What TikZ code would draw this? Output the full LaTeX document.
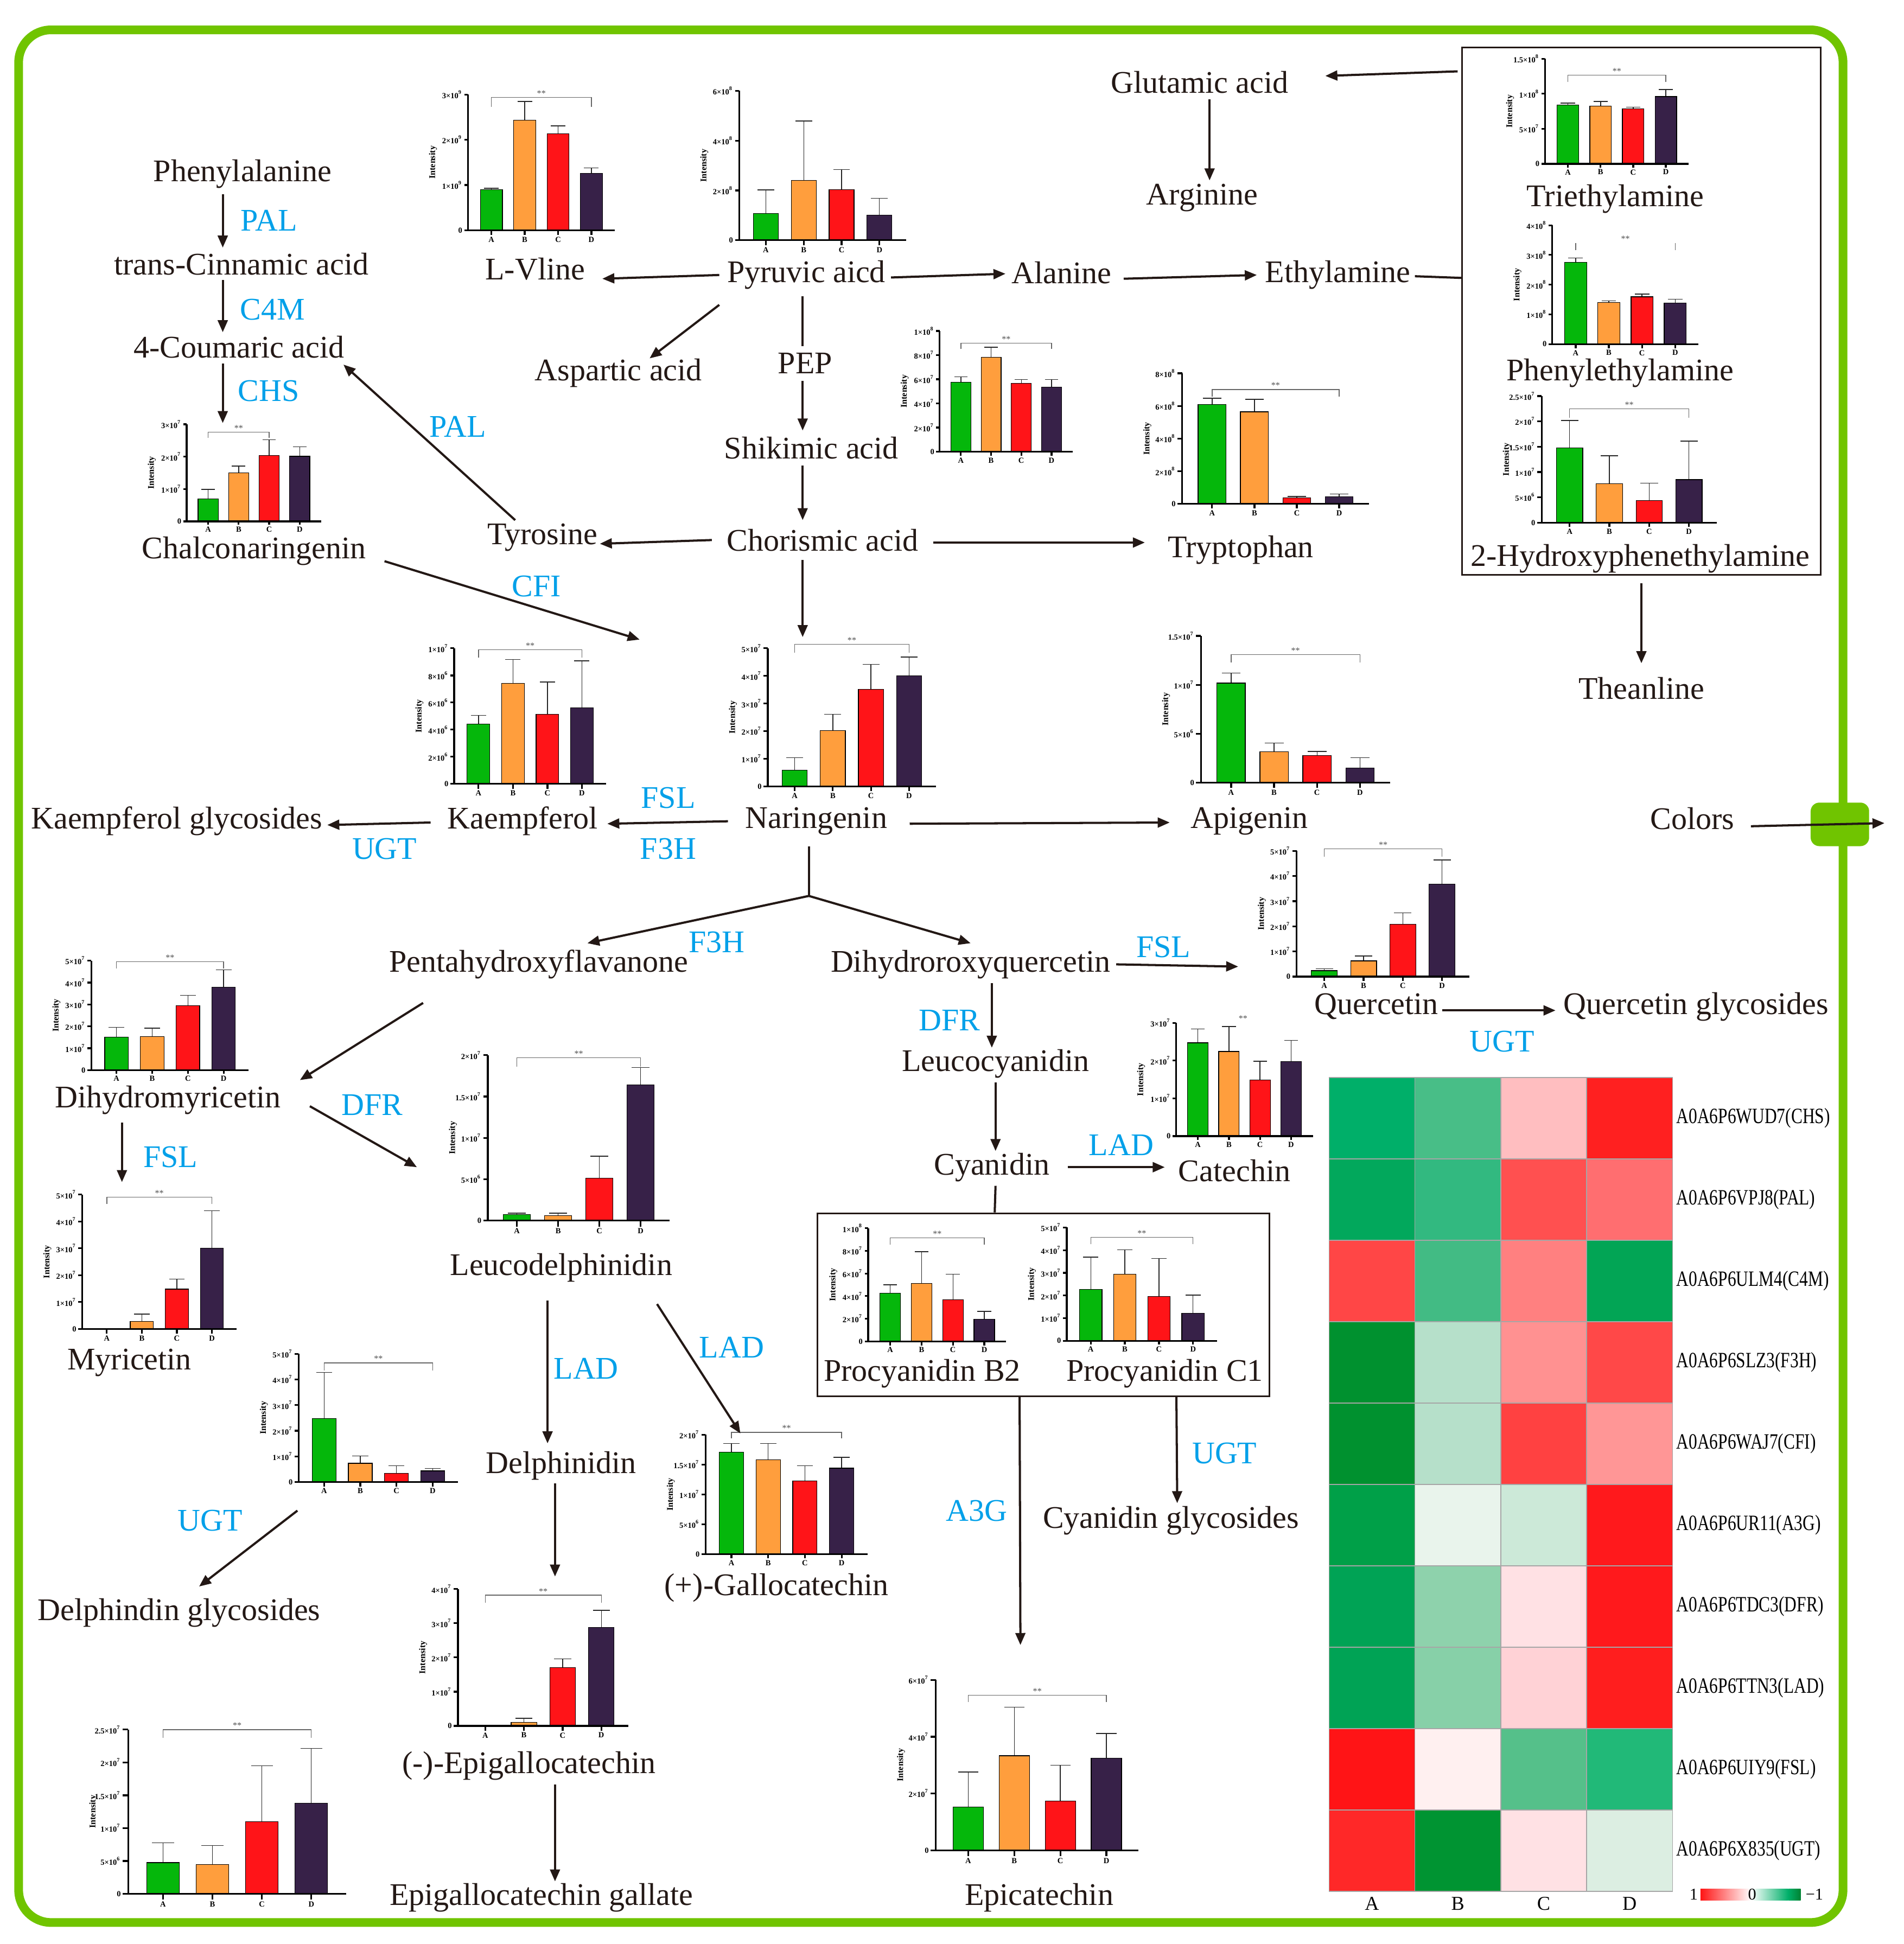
\documentclass[tikz,border=0pt]{standalone}
\usepackage{fontspec}
\setmainfont{Liberation Serif}
\usetikzlibrary{arrows.meta,shapes,positioning,calc}

\definecolor{textdark}{RGB}{35,24,21}
\definecolor{enzblue}{RGB}{0,160,233}
\definecolor{framegreen}{RGB}{112,196,0}
\definecolor{bar0}{RGB}{5,183,11}
\definecolor{bar1}{RGB}{255,158,61}
\definecolor{bar2}{RGB}{255,20,24}
\definecolor{bar3}{RGB}{55,33,72}
\definecolor{hmred}{RGB}{255,20,20}
\definecolor{hmgreen}{RGB}{0,175,105}
\definecolor{hmdark}{RGB}{0,130,50}

\tikzstyle{arrow} = [-{Triangle[length=5.5pt,width=4.5pt]}, line width=1pt, draw=textdark]
\tikzstyle{plainlink} = [line width=1pt, draw=textdark]
\tikzstyle{metab} = [font=\fontsize{14.4}{17}\selectfont, text=textdark, inner sep=1pt]
\tikzstyle{enzyme} = [metab, text=enzblue]
\tikzstyle{boxnode} = [draw=textdark, line width=0.8pt, inner sep=0pt]
\tikzstyle{frameline} = [draw=framegreen, line width=0.14cm, rounded corners=0.52cm]
\tikzstyle{colortab} = [fill=framegreen, rounded corners=0.14cm, minimum width=0.94cm, minimum height=0.7cm, inner sep=0pt]
\tikzstyle{plotaxis} = [line width=0.8pt, draw=black]
\tikzstyle{errbar} = [line width=0.35pt, draw=black!85]
\tikzstyle{ticktext} = [font=\fontsize{3.6}{4}\selectfont\bfseries, inner sep=0.5pt]
\tikzstyle{sigline} = [line width=0.35pt, draw=black!60]
\tikzstyle{startext} = [font=\fontsize{4}{4}\selectfont, text=black!70, inner sep=0.3pt]
\tikzstyle{hmcell} = [draw=black!35, line width=0.4pt]
\tikzstyle{genelabel} = [font=\fontsize{10}{11}\selectfont, xscale=0.78, anchor=west, inner sep=0pt]
\tikzstyle{hmtext} = [font=\fontsize{9}{10}\selectfont, inner sep=0pt]
\tikzstyle{legtext} = [font=\fontsize{7.5}{8}\selectfont, inner sep=0pt]

\newcommand{\tenpow}[2]{#1×10\textsuperscript{#2}}

% #1 name, #2 x, #3 y (axis origin), #4 width, #5 height, #6 intervals, #7 tick labels, #8 bars value/error
\newcommand{\intplot}[8]{%
  \def\plotx{#2}\def\ploty{#3}\def\plotw{#4}\def\ploth{#5}%
  \begin{scope}[shift={(#2,#3)}, xscale=#4, yscale=-#5]
    \foreach \bv/\be [count=\i from 0] in {#8} {
      \pgfmathsetmacro{\bx}{0.16+0.227*\i}
      \draw[errbar] (\bx,\bv) -- (\bx,\be) (\bx-0.05,\be) -- (\bx+0.05,\be);
      \filldraw[fill=bar\i, draw=black, line width=0.3pt] (\bx-0.075,0) rectangle (\bx+0.075,\bv);
      \draw[plotaxis] (\bx,0) -- (\bx,-0.035) node[below, ticktext] {\ifcase\i A\or B\or C\or D\fi};
    }
    \draw[plotaxis] (0,1) -- (0,0) -- (1,0);
    \foreach \lab [count=\j from 0] in {#7}
      \draw[plotaxis] (0,\j/#6) -- (-0.025,\j/#6) node[left, ticktext] {\lab};
    \node[ticktext, rotate=90, font=\fontsize{4}{5}\selectfont\bfseries] at ({-28/#4},0.5) {Intensity};
    \coordinate (#1) at (0,1);
  \end{scope}}

\newcommand{\sigbar}[4]{%
  \begin{scope}[shift={(\plotx,\ploty)}, xscale=\plotw, yscale=-\ploth]
    \draw[sigline] ({0.16+0.227*#3},#2) -- ({0.16+0.227*#3},#1) -- ({0.16+0.227*#4},#1) -- ({0.16+0.227*#4},#2);
    \node[startext, above] at ({0.16+0.1135*(#3+#4)},#1) {**};
  \end{scope}}

\newcommand{\sigtick}[4]{%
  \begin{scope}[shift={(\plotx,\ploty)}, xscale=\plotw, yscale=-\ploth]
    \draw[sigline] ({0.16+0.227*#3},#2) -- ({0.16+0.227*#3},#1) ({0.16+0.227*#4},#2) -- ({0.16+0.227*#4},#1);
    \node[startext, above] at ({0.16+0.1135*(#3+#4)},#1) {**};
  \end{scope}}

\newcommand{\sigstar}[2]{%
  \begin{scope}[shift={(\plotx,\ploty)}, xscale=\plotw, yscale=-\ploth]
    \node[startext] at (#1,#2) {**};
  \end{scope}}

\begin{document}
\begin{tikzpicture}[x=0.02cm, y=-0.02cm]
\useasboundingbox (0,0) rectangle (1530,1562.3);
\draw[frameline] (15,24) rectangle (1481,1545);
\node[colortab] (colortab) at (1478.5,662.5) {};

\node[boxnode, minimum width=5.76cm, minimum height=8.48cm] (aminebox) at (1319,250) {};
\node[boxnode, minimum width=7.26cm, minimum height=2.94cm] (probox) at (838.5,1048.5) {};

\intplot{lvlplot}{376}{185}{118}{109}{3}{0,\tenpow{1}{9},\tenpow{2}{9},\tenpow{3}{9}}{0.3/0.31, 0.81/0.95, 0.71/0.77, 0.42/0.46}
\sigbar{0.98}{0.91}{0}{3}
\intplot{pyrplot}{594}{193}{134}{120}{3}{0,\tenpow{2}{8},\tenpow{4}{8},\tenpow{6}{8}}{0.179/0.336, 0.399/0.798, 0.338/0.473, 0.168/0.281}
\intplot{trietplot}{1241.5}{131.7}{115.5}{84.5}{3}{0,\tenpow{5}{7},\tenpow{1}{8},\tenpow{1.5}{8}}{0.56/0.578, 0.548/0.594, 0.525/0.54, 0.64/0.708}
\sigbar{0.843}{0.78}{0}{3}
\intplot{phenplot}{1247.4}{276.5}{117.4}{95.5}{4}{0,\tenpow{1}{8},\tenpow{2}{8},\tenpow{3}{8},\tenpow{4}{8}}{0.688/0.723, 0.351/0.364, 0.398/0.42, 0.346/0.376}
\sigtick{0.85}{0.79}{0}{3}
\intplot{hydrplot}{1238.8}{420}{140.8}{101.7}{5}{0,\tenpow{5}{6},\tenpow{1}{7},\tenpow{1.5}{7},\tenpow{2}{7},\tenpow{2.5}{7}}{0.591/0.807, 0.307/0.529, 0.176/0.311, 0.34/0.644}
\sigbar{0.9}{0.83}{0}{3}
\intplot{shikplot}{755}{363}{107}{97}{5}{0,\tenpow{2}{7},\tenpow{4}{7},\tenpow{6}{7},\tenpow{8}{7},\tenpow{1}{8}}{0.577/0.62, 0.784/0.866, 0.567/0.598, 0.536/0.598}
\sigbar{0.9}{0.85}{0}{3}
\intplot{trpplot}{950}{405}{150}{105}{4}{0,\tenpow{2}{8},\tenpow{4}{8},\tenpow{6}{8},\tenpow{8}{8}}{0.762/0.81, 0.705/0.8, 0.048/0.057, 0.057/0.076}
\sigbar{0.876}{0.82}{0}{3}
\intplot{chalplot}{150}{419}{108}{78}{3}{0,\tenpow{1}{7},\tenpow{2}{7},\tenpow{3}{7}}{0.23/0.33, 0.5/0.57, 0.68/0.84, 0.67/0.77}
\sigbar{0.92}{0.86}{0}{2}
\intplot{kaeplot}{365}{630}{122}{109}{5}{0,\tenpow{2}{6},\tenpow{4}{6},\tenpow{6}{6},\tenpow{8}{6},\tenpow{1}{7}}{0.44/0.505, 0.743/0.917, 0.514/0.752, 0.56/0.908}
\sigbar{0.99}{0.93}{0}{3}
\intplot{narplot}{617}{632}{135}{111}{5}{0,\tenpow{1}{7},\tenpow{2}{7},\tenpow{3}{7},\tenpow{4}{7},\tenpow{5}{7}}{0.117/0.207, 0.405/0.522, 0.703/0.883, 0.802/0.937}
\sigbar{1.03}{0.97}{0}{3}
\intplot{apiplot}{965}{629}{152}{118}{3}{0,\tenpow{5}{6},\tenpow{1}{7},\tenpow{1.5}{7}}{0.678/0.746, 0.212/0.271, 0.186/0.212, 0.1/0.17}
\sigbar{0.873}{0.82}{0}{3}
\intplot{queplot}{1042}{784.8}{138.9}{101}{5}{0,\tenpow{1}{7},\tenpow{2}{7},\tenpow{3}{7},\tenpow{4}{7},\tenpow{5}{7}}{0.047/0.062, 0.125/0.164, 0.417/0.508, 0.737/0.928}
\sigbar{1.016}{0.952}{0}{3}
\intplot{catplot}{945}{913}{110}{91}{3}{0,\tenpow{1}{7},\tenpow{2}{7},\tenpow{3}{7}}{0.824/0.945, 0.747/0.967, 0.495/0.66, 0.66/0.846}
\sigstar{0.49}{1.04}
\intplot{dhmplot}{73.4}{860}{126.4}{88}{5}{0,\tenpow{1}{7},\tenpow{2}{7},\tenpow{3}{7},\tenpow{4}{7},\tenpow{5}{7}}{0.30/0.391, 0.305/0.383, 0.588/0.682, 0.756/0.917}
\sigbar{0.99}{0.93}{0}{3}
\intplot{leudelplot}{392}{981}{146}{133}{4}{0,\tenpow{5}{6},\tenpow{1}{7},\tenpow{1.5}{7},\tenpow{2}{7}}{0.038/0.045, 0.03/0.045, 0.256/0.39, 0.82/0.925}
\sigbar{0.985}{0.93}{0}{3}
\intplot{myrplot}{66}{1068}{124}{108}{5}{0,\tenpow{1}{7},\tenpow{2}{7},\tenpow{3}{7},\tenpow{4}{7},\tenpow{5}{7}}{0.003/0.003, 0.056/0.11, 0.296/0.37, 0.6/0.88}
\sigbar{0.98}{0.93}{0}{3}
\intplot{proBplot}{697.6}{1078}{111}{91}{5}{0,\tenpow{2}{7},\tenpow{4}{7},\tenpow{6}{7},\tenpow{8}{7},\tenpow{1}{8}}{0.425/0.5, 0.511/0.793, 0.369/0.593, 0.196/0.266}
\sigbar{0.913}{0.853}{0}{3}
\intplot{proCplot}{857.2}{1077.5}{120.7}{91}{5}{0,\tenpow{1}{7},\tenpow{2}{7},\tenpow{3}{7},\tenpow{4}{7},\tenpow{5}{7}}{0.452/0.739, 0.588/0.804, 0.393/0.726, 0.243/0.404}
\sigbar{0.915}{0.852}{0}{3}
\intplot{delplot}{240}{1191}{128}{103}{5}{0,\tenpow{1}{7},\tenpow{2}{7},\tenpow{3}{7},\tenpow{4}{7},\tenpow{5}{7}}{0.495/0.854, 0.146/0.204, 0.068/0.126, 0.087/0.107}
\sigbar{0.93}{0.87}{0}{3}
\intplot{galplot}{567}{1249}{130}{96}{4}{0,\tenpow{5}{6},\tenpow{1}{7},\tenpow{1.5}{7},\tenpow{2}{7}}{0.854/0.927, 0.79/0.927, 0.615/0.74, 0.72/0.81}
\sigbar{1.02}{0.97}{0}{3}
\intplot{egcplot}{368}{1387}{137}{110}{4}{0,\tenpow{1}{7},\tenpow{2}{7},\tenpow{3}{7},\tenpow{4}{7}}{0.003/0.003, 0.027/0.055, 0.427/0.49, 0.718/0.845}
\sigbar{0.955}{0.9}{0}{3}
\intplot{delglyplot}{103}{1522}{175}{132}{5}{0,\tenpow{5}{6},\tenpow{1}{7},\tenpow{1.5}{7},\tenpow{2}{7},\tenpow{2.5}{7}}{0.19/0.31, 0.18/0.295, 0.44/0.78, 0.553/0.886}
\sigbar{1.0}{0.95}{0}{3}
\intplot{epiplot}{752}{1487}{163}{137}{3}{0,\tenpow{2}{7},\tenpow{4}{7},\tenpow{6}{7}}{0.255/0.46, 0.555/0.84, 0.29/0.5, 0.54/0.686}
\sigbar{0.91}{0.87}{0}{3}

\node[metab] (phe) at (195,140) {Phenylalanine};
\node[metab] (cin) at (194,212) {trans-Cinnamic acid};
\node[metab] (coum) at (192,279) {4-Coumaric acid};
\node[metab] (chal) at (204,443) {Chalconaringenin};
\node[metab] (lvl) at (430,216) {L-Vline};
\node[metab] (pyr) at (648,221) {Pyruvic aicd};
\node[metab] (ala) at (853,219) {Alanine};
\node[metab] (ethyl) at (1075,221) {Ethylamine};
\node[metab] (glu) at (964,66) {Glutamic acid};
\node[metab] (arg) at (966,159) {Arginine};
\node[metab] (asp) at (497,300) {Aspartic acid};
\node[metab] (pep) at (647,292) {PEP};
\node[metab] (shik) at (652,360) {Shikimic acid};
\node[metab] (chor) at (661,434) {Chorismic acid};
\node[metab] (tyr) at (436,432) {Tyrosine};
\node[metab] (trp) at (997,442) {Tryptophan};
\node[metab] (trieth) at (1298,160) {Triethylamine};
\node[metab] (phenyl) at (1302,300) {Phenylethylamine};
\node[metab] (hydroxy) at (1318,449) {2-Hydroxyphenethylamine};
\node[metab] (thea) at (1319,553) {Theanline};
\node[metab] (kgly) at (142,660) {Kaempferol glycosides};
\node[metab] (kae) at (420,660) {Kaempferol};
\node[metab] (nar) at (656,660) {Naringenin};
\node[metab] (api) at (1004,660) {Apigenin};
\node[metab] (colors) at (1360,658) {Colors};
\node[metab] (penta) at (433,775) {Pentahydroxyflavanone};
\node[metab] (dhq) at (780,775) {Dihydroroxyquercetin};
\node[metab] (que) at (1106,809) {Quercetin};
\node[metab] (qgly) at (1363,809) {Quercetin glycosides};
\node[metab] (leucy) at (800,855) {Leucocyanidin};
\node[metab] (dhm) at (135,884) {Dihydromyricetin};
\node[metab] (cya) at (797,938) {Cyanidin};
\node[metab] (cat) at (992,941) {Catechin};
\node[metab] (leudel) at (451,1019) {Leucodelphinidin};
\node[metab] (myr) at (104,1095) {Myricetin};
\node[metab] (proB) at (741,1104) {Procyanidin B2};
\node[metab] (proC) at (936,1104) {Procyanidin C1};
\node[metab] (del) at (451,1178) {Delphinidin};
\node[metab] (cyagly) at (941,1222) {Cyanidin glycosides};
\node[metab] (delgly) at (144,1296) {Delphindin glycosides};
\node[metab] (galcat) at (624,1276) {(+)-Gallocatechin};
\node[metab] (egc) at (425,1419) {(-)-Epigallocatechin};
\node[metab] (egcg) at (435,1525) {Epigallocatechin gallate};
\node[metab] (epi) at (835,1525) {Epicatechin};

\node[enzyme] (palA) at (216,177) {PAL};
\node[enzyme] (c4m) at (219,249) {C4M};
\node[enzyme] (chs) at (216,314) {CHS};
\node[enzyme] (palB) at (368,343) {PAL};
\node[enzyme] (cfi) at (431,471) {CFI};
\node[enzyme] (fslA) at (537,641) {FSL};
\node[enzyme] (f3hA) at (537,682) {F3H};
\node[enzyme] (ugtA) at (309,682) {UGT};
\node[enzyme] (f3hB) at (576,757) {F3H};
\node[enzyme] (fslB) at (935,761) {FSL};
\node[enzyme] (dfrA) at (763,820) {DFR};
\node[enzyme] (ugtB) at (1207,837) {UGT};
\node[enzyme] (dfrB) at (299,888) {DFR};
\node[enzyme] (fslC) at (137,930) {FSL};
\node[enzyme] (ladA) at (901,920) {LAD};
\node[enzyme] (ladB) at (471,1100) {LAD};
\node[enzyme] (ladC) at (588,1083) {LAD};
\node[enzyme] (ugtC) at (984,1168) {UGT};
\node[enzyme] (a3g) at (785,1214) {A3G};
\node[enzyme] (ugtD) at (169,1222) {UGT};

\draw[arrow] ($(phe)+(-16,16)$) -- ($(cin)+(-15,-13)$);
\draw[arrow] ($(cin)+(-15,13)$) -- ($(coum)+(-13,-12)$);
\draw[arrow] ($(coum)+(-13,13)$) -- ($(chalplot)+(29,-1)$);
\draw[arrow] ($(tyr)+(-22,-14)$) -- ($(coum)+(84,14)$);
\draw[arrow] ($(chal)+(105,8)$) -- ($(narplot)+(-103,-7)$);
\draw[arrow] ($(pyr)+(-70,0)$) -- ($(lvl)+(54,8)$);
\draw[arrow] ($(pyr)+(68,2)$) -- ($(ala)+(-45,1)$);
\draw[arrow] ($(ala)+(50,5)$) -- ($(ethyl)+(-65,0)$);
\draw[plainlink] ($(ethyl)+(62,1)$) -- ($(aminebox.north west)+(0,186)$);
\draw[arrow] ($(aminebox.north west)+(-3,20)$) -- ($(glu)+(101,-5)$);
\draw[arrow] ($(glu)+(8,14)$) -- ($(arg)+(6,-14)$);
\draw[arrow] ($(pyr)+(-70,24)$) -- ($(asp)+(25,-12)$);
\draw[plainlink] ($(pyr)+(-3,17)$) -- ($(pep)+(-2,-14)$);
\draw[arrow] ($(pep)+(-2,14)$) -- ($(shik)+(-7,-14)$);
\draw[arrow] ($(shik)+(-7,14)$) -- ($(chor)+(-16,-16)$);
\draw[arrow] ($(chor)+(-89,0)$) -- ($(tyr)+(46,5)$);
\draw[arrow] ($(chor)+(89,2)$) -- ($(trp)+(-77,-6)$);
\draw[arrow] ($(chor)+(-16,16)$) -- ($(narplot)+(28,-9)$);
\draw[arrow] ($(aminebox.south)+(0,6)$) -- ($(thea)+(0,-20)$);
\draw[arrow] ($(nar)+(-71,0)$) -- ($(kae)+(68,2)$);
\draw[arrow] ($(kae)+(-74,1)$) -- ($(kgly)+(121,3)$);
\draw[arrow] ($(nar)+(75,2)$) -- ($(api)+(-64,1)$);
\draw[arrow] ($(colors)+(47,6)$) -- ($(colortab.east)+(12,-1)$);
\coordinate (narsplit) at ($(nar)+(-6,60)$);
\draw[plainlink] ($(nar)+(-6,20)$) -- (narsplit);
\draw[arrow] (narsplit) -- ($(penta)+(39,-17)$);
\draw[arrow] (narsplit) -- ($(dhq)+(0,-17)$);
\draw[arrow] ($(penta)+(-93,31)$) -- ($(dhm)+(106,-16)$);
\draw[arrow] ($(dhq)+(117,0)$) -- ($(queplot)+(-47,93)$);
\draw[arrow] ($(dhq)+(17,15)$) -- ($(leucy)+(-3,-13)$);
\draw[arrow] ($(que)+(53,3)$) -- ($(qgly)+(-113,3)$);
\draw[arrow] ($(leucy)+(0,15)$) -- ($(cya)+(3,-13)$);
\draw[arrow] ($(cya)+(61,0)$) -- ($(cat)+(-56,-3)$);
\draw[plainlink] ($(cya)+(3,15)$) -- ($(probox.north west)+(143,0)$);
\draw[arrow] ($(dhm)+(-37,18)$) -- ($(myrplot)+(32,-10)$);
\draw[arrow] ($(dhm)+(114,5)$) -- ($(leudelplot)+(-57,90)$);
\draw[arrow] ($(leudel)+(-11,26)$) -- ($(del)+(-11,-18)$);
\draw[arrow] ($(leudel)+(77,29)$) -- ($(galplot)+(28,-1)$);
\draw[arrow] ($(probox.south west)+(163,0)$) -- ($(epiplot)+(68,-28)$);
\draw[arrow] ($(probox.south west)+(289,0)$) -- ($(cyagly)+(5,-14)$);
\draw[arrow] ($(delplot)+(-1,126)$) -- ($(delgly)+(16,-21)$);
\draw[arrow] ($(del)+(-5,14)$) -- ($(egcplot)+(78,-10)$);
\draw[arrow] ($(egc)+(21,15)$) -- ($(egcg)+(11,-13)$);

\foreach \lab/\ca/\cb/\cc/\cd [count=\r from 0] in {
  A0A6P6WUD7(CHS)/00AF69/48BE87/FFBEC0/FF2020,
  A0A6P6VPJ8(PAL)/02A85C/32B980/FF5050/FF6E70,
  A0A6P6ULM4(C4M)/FF4646/42BB84/FF8080/02A555,
  A0A6P6SLZ3(F3H)/00912F/B6E0CA/FF9191/FF4848,
  A0A6P6WAJ7(CFI)/00912F/B6E0CA/FF4141/FF9696,
  A0A6P6UR11(A3G)/00A048/E9F4EC/CCE9D8/FF191C,
  A0A6P6TDC3(DFR)/00A355/8ED2AC/FFE1E4/FF191C,
  A0A6P6TTN3(LAD)/00A355/87D0A8/FFD2D6/FF1E1E,
  A0A6P6UIY9(FSL)/FF1416/FFF0F0/55C08A/21B978,
  A0A6P6X835(UGT)/FF2828/009432/FFE1E4/DCEEE2}
{
  \foreach \hex [count=\k from 0] in {\ca,\cb,\cc,\cd} {
    \edef\setcell{\noexpand\definecolor{cellfill}{HTML}{\hex}}\setcell
    \draw[hmcell, fill=cellfill] ({1068+69*\k},{866+65.4*\r}) rectangle ++(69,65.4);
  }
  \node[genelabel] (gene\r) at (1347,{898.7+65.4*\r}) {\lab};
}
\foreach \col [count=\k from 0] in {A,B,C,D}
  \node[hmtext] (hmcol\col) at ({1102.5+69*\k},1530) {\col};

\shade[left color=hmred, right color=white] (1366.5,1518) rectangle (1407,1527);
\shade[left color=white, right color=hmgreen] (1407,1518) rectangle (1437,1527);
\shade[left color=hmgreen, right color=hmdark] (1437,1518) rectangle (1447,1527);
\node[legtext] (legone) at (1361,1522.5) {1};
\node[legtext] (legzero) at (1408,1522.5) {0};
\node[legtext] (legminus) at (1458,1522.5) {−1};
\end{tikzpicture}
\end{document}
